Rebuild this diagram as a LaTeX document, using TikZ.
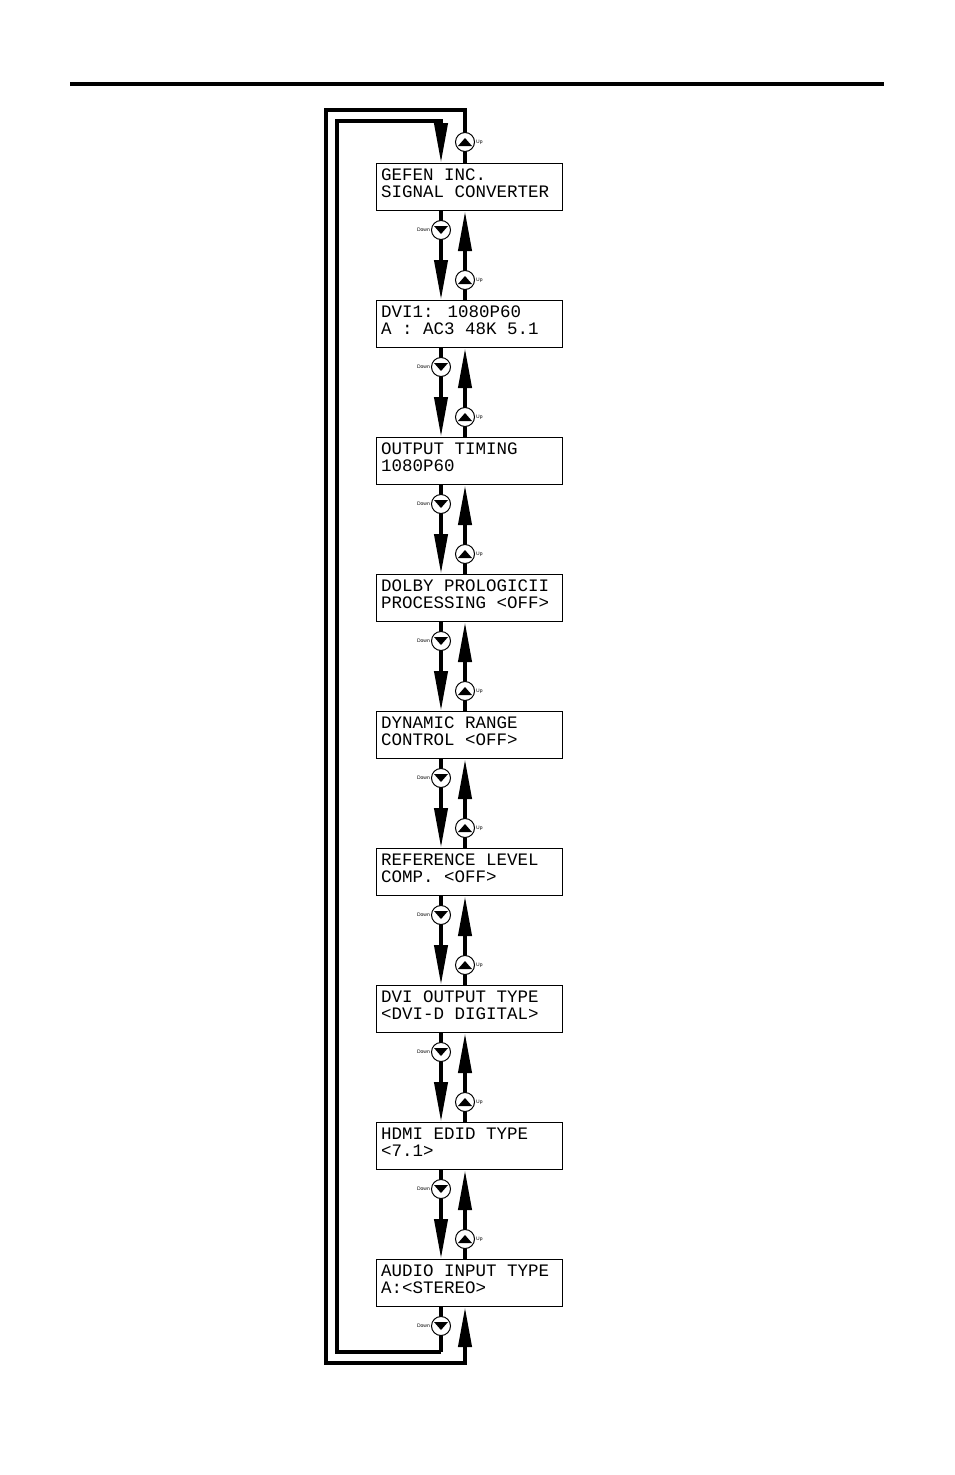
\documentclass[tikz,border=0pt]{standalone}
\usepackage{fontspec}
\setmainfont{Liberation Sans}
\newfontfamily\lcd{Liberation Mono}
\usetikzlibrary{arrows.meta}
\begin{document}
\begin{tikzpicture}[x=1pt,y=-1pt,
  lcdbox/.style={draw,line width=1pt,minimum width=186pt,minimum height=47pt,inner sep=0pt,anchor=north west},
  btn/.style={circle,draw,fill=white,line width=1pt,minimum size=19pt,inner sep=0pt},
  wire/.style={line width=4pt},
  bigarrow/.style={line width=4pt,-{Triangle[width=13pt,length=40pt]}},
  lbl/.style={font=\fontsize{5}{6}\selectfont,inner sep=1pt}]
\useasboundingbox (0,0) rectangle (954,1475);
\draw[line width=4pt] (70,84) -- (884,84);
\def\texts{{"GEFEN INC.\\SIGNAL CONVERTER","DVI1:  1080P60\\A : AC3 48K 5.1","OUTPUT TIMING\\1080P60","DOLBY PROLOGICII\\PROCESSING <OFF>","DYNAMIC RANGE\\CONTROL    <OFF>","REFERENCE LEVEL\\COMP.      <OFF>","DVI OUTPUT TYPE\\<DVI-D DIGITAL>","HDMI EDID TYPE\\<7.1>","AUDIO INPUT TYPE\\A:<STEREO>"}}
\foreach \i in {0,...,8}{
  \pgfmathsetmacro\yt{163+137*\i}
  \node[lcdbox] (b\i) at (376,\yt) {};
  \node[anchor=north west,align=left,inner sep=0pt,font=\lcd\fontsize{17.5}{17}\selectfont] (t\i) at (381,\yt+6) {\pgfmathparse{\texts[\i]}\pgfmathresult};
}
% outer loop (up direction)
\coordinate (o1) at (465,1363); \coordinate (o2) at (326,1363);
\coordinate (o3) at (326,110); \coordinate (o4) at (465,110);
\coordinate (i1) at (441,1352); \coordinate (i2) at (337,1352);
\coordinate (i3) at (337,121); \coordinate (i4) at (441,121);
\draw[wire,line join=miter] (i1) -- (i2) -- (i3) -- (i4) -- (441,130);
\draw[bigarrow] (441,125) -- (b0.north -| 441,0);
\draw[wire,line join=miter] (465,1340) -- (o1) -- (o2) -- (o3) -- (o4) -- (b0.north -| 465,0);
\draw[bigarrow] (465,1345) -- (b8.south -| 465,0);
\draw[wire] (b8.south -| 441,0) -- (i1);
\node[btn] (ut) at (465,142) {};
\fill (ut.center) ++(-7,4) -- ++(14,0) -- ++(-7,-8) -- cycle;
\node[lbl,anchor=west] at (ut.east) {Up};
\foreach \i [evaluate=\i as \j using int(\i+1)] in {0,...,7}{
  \draw[bigarrow] (b\i.south -| 441,0) -- (b\j.north -| 441,0);
  \draw[bigarrow] (b\j.north -| 465,0) -- (b\i.south -| 465,0);
}
\foreach \i in {0,...,8}{
  \node[btn] (d\i) at (441,230+137*\i) {};
  \fill (d\i.center) ++(-7,-4) -- ++(14,0) -- ++(-7,8) -- cycle;
  \node[lbl,anchor=east] at (d\i.west) {Down};
}
\foreach \i in {0,...,7}{
  \node[btn] (u\i) at (465,280+137*\i) {};
  \fill (u\i.center) ++(-7,4) -- ++(14,0) -- ++(-7,-8) -- cycle;
  \node[lbl,anchor=west] at (u\i.east) {Up};
}
\end{tikzpicture}
\end{document}
